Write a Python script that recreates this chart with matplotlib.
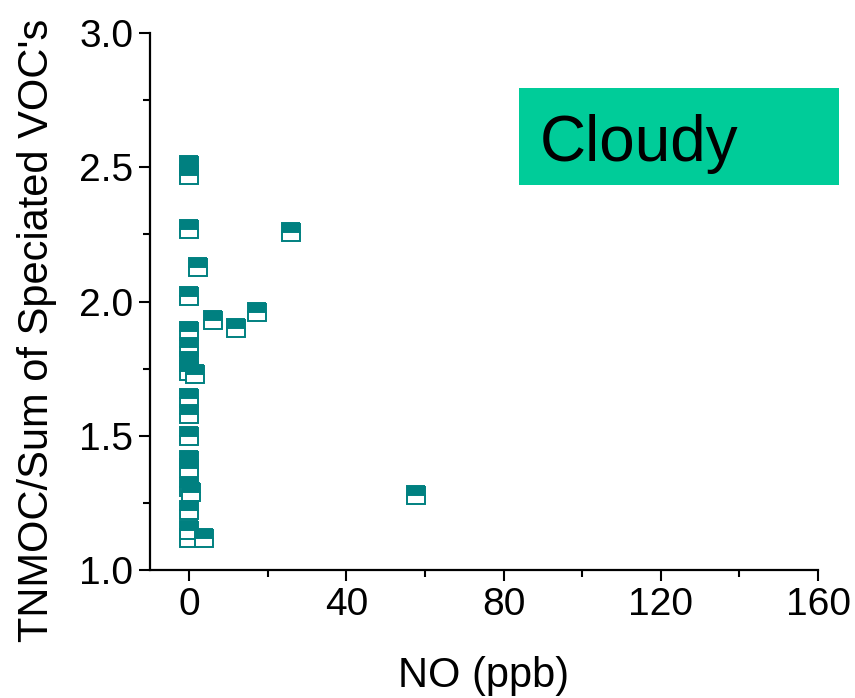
import matplotlib
matplotlib.use('Agg')
import matplotlib.pyplot as plt
from matplotlib.patches import Rectangle
from matplotlib.ticker import MultipleLocator

plt.rcParams['font.family'] = ['Liberation Sans', 'DejaVu Sans']

# NO (ppb) vs TNMOC / sum of speciated VOCs, cloudy days
no_ppb = [0, 0, 0, 2.2, 0, 25.8, 6.1, 11.8, 17.2,
          0, 0, 0, 0, 1.5, 0, 0, 0,
          0, 0, 0, 0.5, 0, 0, 0, 3.8, 57.8]
ratio = [2.51, 2.47, 2.27, 2.13, 2.02, 2.26, 1.93, 1.90, 1.96,
         1.89, 1.83, 1.78, 1.74, 1.73, 1.64, 1.58, 1.50,
         1.41, 1.38, 1.31, 1.29, 1.225, 1.12, 1.15, 1.12, 1.28]

teal = '#008080'

fig = plt.figure(figsize=(8.55, 6.98), dpi=100)
ax = fig.add_axes([150/855, 1 - 570/698, (818 - 150)/855, (570 - 33)/698])

for x, y in zip(no_ppb, ratio):
    ax.plot(x, y, 's', ms=13, mew=1.4, fillstyle='top',
            markerfacecolor=teal, markerfacecoloralt='white',
            markeredgecolor=teal, clip_on=False)

ax.set_xlim(-10, 160)
ax.set_ylim(1.0, 3.0)
ax.xaxis.set_major_locator(MultipleLocator(40))
ax.xaxis.set_minor_locator(MultipleLocator(20))
ax.yaxis.set_major_locator(MultipleLocator(0.5))
ax.yaxis.set_minor_locator(MultipleLocator(0.25))
ax.set_xticks([0, 40, 80, 120, 160])

for s in ['top', 'right']:
    ax.spines[s].set_visible(False)
for s in ['left', 'bottom']:
    ax.spines[s].set_linewidth(1.6)

ax.tick_params(which='major', direction='out', length=8, width=1.5,
               labelsize=28, pad=4)
ax.tick_params(which='minor', direction='out', length=5, width=1.5)

ax.set_xlabel('NO (ppb)', fontsize=30, labelpad=24)
ax.set_ylabel("TNMOC/Sum of Speciated VOC's", fontsize=30)
ax.yaxis.set_label_coords(-0.139, 0.447)

# "Cloudy" label box
fig.patches.append(Rectangle((519/855, 1 - 185/698), 320/855, 97/698,
                             transform=fig.transFigure, facecolor='#00CC99',
                             edgecolor='none', zorder=5))
fig.text(540/855, 1 - 161/698, 'Cloudy', fontsize=46, color='black',
         ha='left', va='baseline', zorder=6)

fig.savefig('out.png', dpi=100)
